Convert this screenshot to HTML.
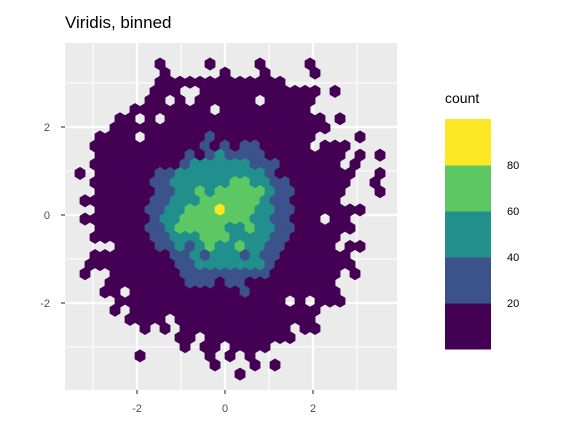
<!DOCTYPE html>
<html><head><meta charset="utf-8"><style>
body{margin:0;background:#fff;}
svg{display:block;font-family:"Liberation Sans",sans-serif;}
</style></head><body>
<svg id="chart" width="576" height="432" viewBox="0 0 576 432">
<rect x="0" y="0" width="576" height="432" fill="#fff"/>
<text x="65" y="28" font-size="17" fill="#000">Viridis, binned</text>
<rect x="65" y="43" width="332" height="347" fill="#EBEBEB"/>
<g id="grid"></g>
<g id="hexes"></g>
<g id="axes"></g>
<text x="445" y="103" font-size="14" fill="#000">count</text>
<g id="legend"></g>
</svg>
<script>
// Axis tick values
const xTicks = [-2, 0, 2];
const yTicks = [-2, 0, 2];
const xMinor = [-3, -1, 1, 3];
const yMinor = [-3, -1, 1, 3];
// Colour bins (viridis, binned) and legend breaks
const binColors = ["#440154", "#3B528B", "#21908C", "#5DC863", "#FDE725"];
const legendBreaks = [20, 40, 60, 80];
// Hex grid (data units): origin, spacing
const gridX0 = -3.295, gridDX = 0.22727, gridY0 = 3.432, gridDY = 0.2073;
// Binned counts per hex row: '.' empty, 1..5 = count bin
const hexRows = [
"........ 1....1.. ..1....1 ........",
"........ .1.....1 ...1.... 1.......",
"........ 11111111 11111... ........",
"........ 111..111 11111111 1.1.....",
".......1 1.1.1111 11.11111 ........",
"......11 111111.1 11111111 ........",
"....11.1 .1111111 11111111 1.1.....",
"....1111 11111111 11111111 11......",
"..1111.1 11111211 11111111 ....1...",
"..111111 11111212 12211111 .111....",
"..111111 11121232 22211111 111.1.1.",
"..111111 11123333 33222111 111.1...",
"1.111111 22333333 33321111 1111..1.",
"..111111 22333333 44332211 1111..1.",
"..111111 22334344 44432211 111...1.",
".1111111 22333444 44432211 111.....",
"..111112 23344454 44332211 11111...",
".1111111 23344444 44332211 1.11....",
"..111112 23444443 34332211 1111....",
"..111111 22333444 33332211 111.....",
"....1111 22323433 43322111 11.11...",
"..111111 11223233 32322111 1111....",
".1111111 11223333 33321111 1111....",
".1..1111 11122222 22221111 111.1...",
"...11111 11122212 21111111 11......",
"...11.11 11111111 12111111 111.....",
"....1111 11111111 11111.1. 111.....",
"....1.11 11111111 11111111 1.......",
".....111 1.111111 11111111 ........",
".......1 .1.11111 111111.1 1.......",
"........ ..11.111 111111.. ........",
"........ ...1.11. 1111.... ........",
"......1. .....1.1 .1...... ........",
"........ ......1. ..1.1... ........",
"........ ........ 1....... ........"
];
const NS = "http://www.w3.org/2000/svg";
function xs(v){ return 225 + 44 * v; }
function ys(v){ return 215 - 44 * v; }
function mk(tag, attrs, parent){
  const e = document.createElementNS(NS, tag);
  for (const k in attrs) e.setAttribute(k, attrs[k]);
  parent.appendChild(e);
  return e;
}
const grid = document.getElementById('grid');
xMinor.forEach(v => {
  const l = mk('line', {x1: xs(v), x2: xs(v), y1: 43, y2: 390, stroke: '#fff', 'stroke-width': 1.1}, grid);
  
  
});
yMinor.forEach(v => {
  const l = mk('line', {x1: 65, x2: 397, y1: ys(v), y2: ys(v), stroke: '#fff', 'stroke-width': 1.1}, grid);
  
  
});
xTicks.forEach(v => {
  const l = mk('line', {x1: xs(v), x2: xs(v), y1: 43, y2: 390, stroke: '#fff', 'stroke-width': 2.2}, grid);
  
  
});
yTicks.forEach(v => {
  const l = mk('line', {x1: 65, x2: 397, y1: ys(v), y2: ys(v), stroke: '#fff', 'stroke-width': 2.2}, grid);
  
  
});
// hexes
const hexG = document.getElementById('hexes');
const hw = 5.05, hh = 6.1;
hexRows.forEach((rowStr, k) => {
  const s = rowStr.replace(/ /g, '');
  for (let j = 0; j < s.length; j++) {
    const c = s[j];
    if (c === '.') continue;
    const lvl = parseInt(c, 10);
    const cx = xs(gridX0 + gridDX * j - (k % 2 ? gridDX / 2 : 0));
    const cy = ys(gridY0 - gridDY * k);
    const pts = [[cx, cy - hh], [cx + hw, cy - hh / 2], [cx + hw, cy + hh / 2], [cx, cy + hh], [cx - hw, cy + hh / 2], [cx - hw, cy - hh / 2]]
      .map(p => p[0].toFixed(2) + ',' + p[1].toFixed(2)).join(' ');
    const h = mk('polygon', {points: pts, fill: binColors[lvl - 1], stroke: binColors[lvl - 1], 'stroke-width': 0.7, 'stroke-linejoin': 'round'}, hexG);
    
    
  }
});
// axes ticks + labels
const axes = document.getElementById('axes');
xTicks.forEach(v => {
  const t = mk('line', {x1: xs(v), x2: xs(v), y1: 390, y2: 394, stroke: '#333', 'stroke-width': 1.1}, axes);
  
  
  const lb = mk('text', {x: xs(v), y: 412, 'font-size': 11, fill: '#4D4D4D', 'text-anchor': 'middle'}, axes);
  lb.textContent = v;
  
  
});
yTicks.forEach(v => {
  const t = mk('line', {x1: 61, x2: 65, y1: ys(v), y2: ys(v), stroke: '#333', 'stroke-width': 1.1}, axes);
  
  
  const lb = mk('text', {x: 50, y: ys(v) + 4, 'font-size': 11, fill: '#4D4D4D', 'text-anchor': 'end'}, axes);
  lb.textContent = v;
  
  
});
// legend colorbar
const leg = document.getElementById('legend');
const barTop = 119, segH = 46;
for (let i = 0; i < binColors.length; i++) {
  const r = mk('rect', {x: 445, y: barTop + segH * (binColors.length - 1 - i), width: 46, height: segH + 0.5, fill: binColors[i]}, leg);
  
  
}
legendBreaks.forEach((b, i) => {
  const y = barTop + segH * (binColors.length - 1 - i);
  const lb = mk('text', {x: 507, y: y + 4, 'font-size': 11, fill: '#000'}, leg);
  lb.textContent = b;
  
  
});
</script>
</body></html>
